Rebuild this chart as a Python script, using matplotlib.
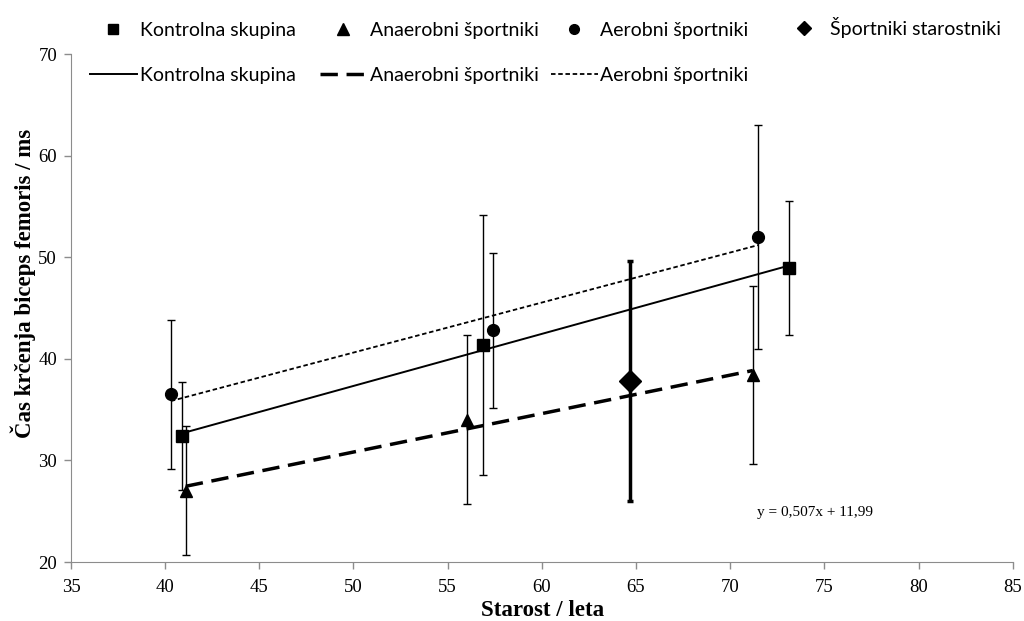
import numpy as np
import matplotlib.pyplot as plt
from matplotlib.lines import Line2D

# Kontrolna skupina (control group)
kontrola_x = [40.9, 56.9, 73.1]
kontrola_y = [32.4, 41.4, 48.9]
kontrola_err = [5.3, 12.8, 6.6]

# Anaerobni sportniki
anaerobni_x = [41.1, 56.0, 71.2]
anaerobni_y = [27.0, 34.0, 38.4]
anaerobni_err = [6.35, 8.3, 8.8]

# Aerobni sportniki
aerobni_x = [40.3, 57.4, 71.5]
aerobni_y = [36.5, 42.8, 52.0]
aerobni_err = [7.3, 7.6, 11.0]

# Sportniki starostniki
starostniki_x = [64.7]
starostniki_y = [37.8]
starostniki_err = [11.8]

serif = "Liberation Serif"
legend_font = "Lato"

fig = plt.figure(figsize=(10.24, 6.21), dpi=100)
ax = fig.add_axes([0.0693, 0.095, 0.9197, 0.818])

# error bars + markers
ax.errorbar(kontrola_x, kontrola_y, yerr=kontrola_err, fmt='s', color='black',
            markersize=8, elinewidth=1, capsize=3, capthick=1, zorder=3)
ax.errorbar(anaerobni_x, anaerobni_y, yerr=anaerobni_err, fmt='^', color='black',
            markersize=9, elinewidth=1, capsize=3, capthick=1, zorder=3)
ax.errorbar(aerobni_x, aerobni_y, yerr=aerobni_err, fmt='o', color='black',
            markersize=8.5, elinewidth=1, capsize=3, capthick=1, zorder=3)
ax.errorbar(starostniki_x, starostniki_y, yerr=starostniki_err, fmt='D', color='black',
            markersize=11, elinewidth=2.5, capsize=2, capthick=2.5, zorder=3)

# linear trend lines
def trend(x, y):
    k, n = np.polyfit(x, y, 1)
    xs = np.array([min(x), max(x)])
    return xs, k * xs + n

dash_a = (0, (5, 2.5))
dot_ae = (0, (2.5, 1.5))

xs, ys = trend(kontrola_x, kontrola_y)
ax.plot(xs, ys, color='black', linestyle='-', linewidth=1.4, zorder=2)
xs, ys = trend(anaerobni_x, anaerobni_y)
ax.plot(xs, ys, color='black', linestyle=dash_a, linewidth=2.5, zorder=2)
xs, ys = trend(aerobni_x, aerobni_y)
ax.plot(xs, ys, color='black', linestyle=dot_ae, linewidth=1.3, zorder=2)

ax.text(74.5, 24.9, "y = 0,507x + 11,99", fontsize=11, family=serif,
        ha='center', va='center')

ax.set_xlim(35, 85)
ax.set_ylim(20, 70)
ax.set_xticks(np.arange(35, 86, 5))
ax.set_yticks(np.arange(20, 71, 10))
for lbl in ax.get_xticklabels() + ax.get_yticklabels():
    lbl.set_fontfamily(serif)
    lbl.set_fontsize(13.5)

for s in ['top', 'right']:
    ax.spines[s].set_visible(False)
for s in ['left', 'bottom']:
    ax.spines[s].set_color('#8c8c8c')
ax.tick_params(direction='out', length=5, color='#8c8c8c', width=1)
ax.tick_params(axis='x', pad=7)
ax.tick_params(axis='y', pad=5)

ax.set_xlabel("Starost / leta", fontsize=16.5, fontweight='bold', family=serif)
ax.set_ylabel("Čas krčenja biceps femoris / ms", fontsize=16.5, fontweight='bold',
              family=serif, va='center')
ax.xaxis.set_label_coords(0.501, -0.074)
ax.yaxis.set_label_coords(-0.051, 0.549)

# legend: one small legend per column, markers on top row, trend lines below
h_k = Line2D([], [], marker='s', color='black', linestyle='none', markersize=7)
h_a = Line2D([], [], marker='^', color='black', linestyle='none', markersize=8)
h_ae = Line2D([], [], marker='o', color='black', linestyle='none', markersize=7)
h_s = Line2D([], [], marker='D', color='black', linestyle='none', markersize=7)
l_k = Line2D([], [], color='black', linestyle='-', linewidth=1.4)
l_a = Line2D([], [], color='black', linestyle=dash_a, linewidth=2.5)
l_ae = Line2D([], [], color='black', linestyle=dot_ae, linewidth=1.3)

columns = [
    ([h_k, l_k], ["Kontrolna skupina", "Kontrolna skupina"], 0.088, 0.965),
    ([h_a, l_a], ["Anaerobni športniki", "Anaerobni športniki"], 0.3125, 0.965),
    ([h_ae, l_ae], ["Aerobni športniki", "Aerobni športniki"], 0.538, 0.965),
    ([h_s], ["Športniki starostniki"], 0.762, 0.973),
]
for hs, ls, xpos, ypos in columns:
    fig.legend(hs, ls, loc='upper left', bbox_to_anchor=(xpos, ypos),
               frameon=False, prop={'family': legend_font, 'size': 14},
               handlelength=2.4, handletextpad=0.15, labelspacing=1.45,
               borderpad=0, borderaxespad=0)

plt.savefig("out.png", dpi=100)
